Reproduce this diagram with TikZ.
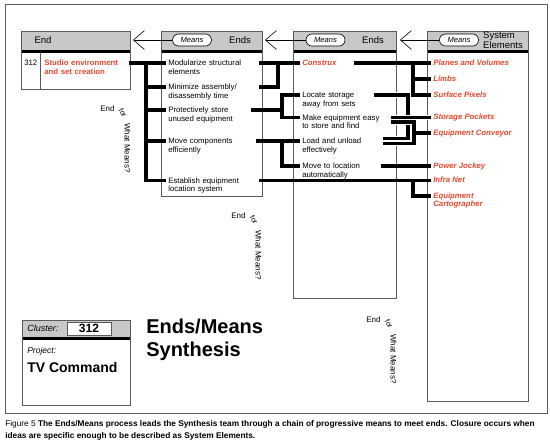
\documentclass[tikz,border=0pt]{standalone}
\usepackage{fontspec}
\setmainfont{Liberation Sans}
\usetikzlibrary{arrows.meta,positioning}
\definecolor{tred}{RGB}{232,72,46}
\definecolor{hgray}{RGB}{200,200,200}
\definecolor{fgray}{RGB}{90,90,90}

\begin{document}
\begin{tikzpicture}[x=1pt, y=-1pt, line width=0.6pt,
  item/.style={anchor=west, align=left, inner xsep=2pt, inner ysep=0pt,
    font=\fontsize{7.8}{8.3}\selectfont,
    execute at begin node={\rule{0pt}{6pt}},
    execute at end node={\rule[-2pt]{0pt}{2pt}}},
  elem/.style={item, text=tred, font=\fontsize{7.8}{8.3}\selectfont\bfseries\itshape},
  means/.style={draw, fill=white, rounded corners=6pt, minimum width=39pt,
    minimum height=12pt, inner sep=0pt, font=\fontsize{7.6}{8}\selectfont\itshape},
  hlabel/.style={align=left, inner sep=0pt, font=\fontsize{9.5}{8.6}\selectfont},
  note/.style={inner sep=0pt, font=\fontsize{8}{8}\selectfont},
  back/.style={-{Straight Barb[length=11pt,width=19pt]}, line width=0.6pt},
  bar/.style={line width=3.6pt},
  xbar/.style={bar, preaction={draw=white, line width=5.8pt}}]
\useasboundingbox (0,0) rectangle (550,445);

% frame
\draw[fgray, line width=0.8pt] (5,4) rectangle (547,413);

% columns
\foreach \a/\b/\c in {21/130/89, 161/262/196, 293/396/298, 427/528/401} {
  \filldraw[fill=hgray, draw=fgray] (\a,31) rectangle (\b,50);
  \fill (\a,50) rectangle (\b,53);
  \draw[fgray] (\a,31) rectangle (\b,\c);
}
\draw[fgray] (40,53) -- (40,89);

% headers
\node[hlabel] (h1) at (43,40.5) {End};
\node[hlabel] (h2) at (240,40.5) {Ends};
\node[hlabel] (h3) at (373,40.5) {Ends};
\node[hlabel] (h4) at (503,40) {System\\Elements};
\node[means] (means2) at (192,40) {Means};
\node[means] (means3) at (325.5,40) {Means};
\node[means] (means4) at (459,40) {Means};
\coordinate (tip1) at (133,40);
\coordinate (tip2) at (265,40);
\coordinate (tip3) at (400,40);
\draw[back] (means2) -- (tip1);
\draw[back] (means3) -- (tip2);
\draw[back] (means4) -- (tip3);

% end
\node[item] (num) at (22,63) {312};
\node[item, text=tred, text width=82pt, font=\fontsize{7.8}{8.3}\selectfont\bfseries] (goal) at (42,68) {Studio environment\\and set creation};

% means / ends
\node[item, text width=88pt] (m1) at (166,68) {Modularize structural\\elements};
\node[item, text width=88pt] (m2) at (166,92) {Minimize assembly/\\disassembly time};
\node[item, text width=88pt] (m3) at (166,115) {Protectively store\\unused equipment};
\node[item, text width=88pt] (m4) at (166,146) {Move components\\efficiently};
\node[item, text width=88pt] (m5) at (166,185.5) {Establish equipment\\location system};

\node[elem, text width=82pt] (s1) at (300,63) {Construx};
\node[item, text width=82pt] (s2) at (300,100) {Locate storage\\away from sets};
\node[item, text width=82pt] (s3) at (300,122.5) {Make equipment easy\\to store and find};
\node[item, text width=82pt] (s4) at (300,146) {Load and unload\\effectively};
\node[item, text width=82pt] (s5) at (300,171) {Move to location\\automatically};

% system elements
\node[elem] (e1) at (431,63) {Planes and Volumes};
\node[elem] (e2) at (431,79) {Limbs};
\node[elem] (e3) at (431,95) {Surface Pixels};
\node[elem] (e4) at (431,117.5) {Storage Pockets};
\node[elem] (e5) at (431,133) {Equipment Conveyor};
\node[elem] (e6) at (431,166) {Power Jockey};
\node[elem] (e7) at (431,180.5) {Infra Net};
\node[elem] (e8) at (431,201) {Equipment\\Cartographer};

% end -> means
\coordinate (j1) at (146,63);
\draw[bar] ([yshift=5pt]goal.east) -- ([yshift=5pt]m1.west);
\foreach \n in {m2,m3,m4,m5}
  \draw[bar] (j1) |- ([yshift=5pt]\n.west);

% means -> means
\coordinate (j2) at (278,63);
\coordinate (j3) at (282,110);
\coordinate (j4) at (282,141);
\draw[bar] ([yshift=5pt]m1.east) -- (s1.west);
\draw[bar] (j2) |- ([yshift=5pt]m2.east);
\draw[bar] ([xshift=-8pt,yshift=5pt]m3.east) -- (j3);
\draw[bar] ([yshift=5pt]s2.west) -| (j3) |- ([yshift=5pt]s3.west);
\draw[bar] ([xshift=-3pt,yshift=5pt]m4.east) -- ([yshift=5pt]s4.west);
\draw[bar] (j4) |- ([yshift=5pt]s5.west);

% means -> system elements
\coordinate (j5) at (413,180.5);
\coordinate (j6) at (413,63);
\coordinate (j7) at (408,138.5);
\coordinate (j8) at (414,143.5);
\draw[bar] ([yshift=5pt]m5.east) -- (e7.west);
\draw[bar] (j5) |- ([yshift=5pt]e8.west);
\draw[bar] ([xshift=-33pt]s1.east) -- (e1.west);
\draw[bar] (j6) |- (e3.west);
\draw[bar] (j6 |- e2.west) -- (e2.west);
\draw[xbar] ([xshift=-13pt,yshift=5pt]s2.east) -| (j7) -- ([xshift=-4pt,yshift=7.5pt]s4.east);
\draw[xbar] ([xshift=4pt,yshift=5pt]s3.east) -- (e4.west);
\draw[xbar] ([xshift=4pt,yshift=0.5pt]s3.east) -| (j8) -- ([xshift=-4pt,yshift=2.5pt]s4.east);
\draw[bar] (j8 |- e5.west) -- (e5.west);
\draw[bar] ([xshift=-6pt,yshift=5pt]s5.east) -- (e6.west);

% end for what means?
\foreach \x/\y [count=\i] in {100/109, 231/216, 366/320} {
  \node[note, anchor=west] (end\i) at (\x,\y) {End};
  \node[note, rotate=-60, font=\fontsize{7.5}{7.5}\selectfont] (for\i) at (\x+23,\y+4) {for};
  \node[note, rotate=-90, anchor=west] (wm\i) at (\x+27.5,\y+14) {What Means?};
}

% cluster
\filldraw[fill=hgray, draw=fgray] (22,320) rectangle (130,337);
\fill (22,337) rectangle (130,340);
\draw[fgray] (22,320) rectangle (130,405);
\node[anchor=west, inner sep=0pt, font=\fontsize{9}{9}\selectfont\itshape] (clab) at (27,328.5) {Cluster:};
\node[draw=fgray, fill=white, minimum width=44pt, minimum height=13pt, inner sep=0pt,
  font=\fontsize{12}{12}\selectfont\bfseries] (cnum) at (89,328.5) {312};
\node[anchor=west, inner sep=0pt, font=\fontsize{8.5}{8.5}\selectfont\itshape] (plab) at (27,351) {Project:};
\node[anchor=west, inner sep=0pt, font=\fontsize{14}{14}\selectfont\bfseries] (proj) at (27,367) {TV Command};
\node[anchor=north west, align=left, inner sep=0pt, font=\fontsize{20}{23}\selectfont\bfseries] (title) at (146,319) {Ends/Means\\Synthesis};

% caption
\node[anchor=north west, align=left, inner sep=0pt, font=\fontsize{8.3}{12}\selectfont] (cap) at (5,420)
  {Figure 5 \textbf{The Ends/Means process leads the Synthesis team through a chain of progressive means to meet ends. Closure occurs when}\\
   \textbf{ideas are specific enough to be described as System Elements.}};
\end{tikzpicture}
\end{document}
